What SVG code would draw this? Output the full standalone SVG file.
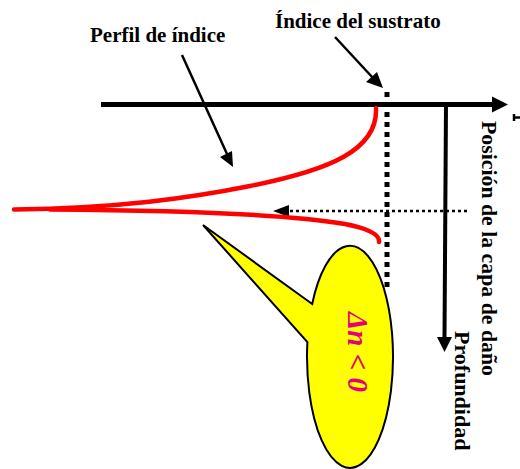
<svg xmlns="http://www.w3.org/2000/svg" width="520" height="469" viewBox="0 0 520 469">
<style>
.lbl{font-family:"Liberation Serif","Times New Roman",serif;font-weight:bold;fill:#000}
.red{fill:none;stroke:#ff0000;stroke-width:4.5;stroke-linecap:round}
</style>
<rect width="520" height="469" fill="#fff"/>
<g id="connectors">
  <line x1="101" y1="104.5" x2="494" y2="104.5" stroke="#000" stroke-width="5"/>
  <path d="M492,96.5 L508,104.5 L492,112.5 Z" fill="#000"/>
  <line x1="446" y1="104" x2="444.5" y2="338" stroke="#000" stroke-width="4"/>
  <path d="M437,337 L444.5,352 L452,337 Z" fill="#000"/>
  <line x1="387" y1="92" x2="387" y2="292" stroke="#000" stroke-width="5" stroke-dasharray="5 5"/>
  <line x1="467" y1="211" x2="288" y2="211" stroke="#000" stroke-width="2.5" stroke-dasharray="3 3"/>
  <path d="M289,205 L273,211 L289,217 Z" fill="#000"/>
  <line x1="182" y1="55" x2="227" y2="154" stroke="#000" stroke-width="2.5"/>
  <path d="M220,157 L233,167 L232,151 Z" fill="#000"/>
  <line x1="335" y1="37" x2="373" y2="78" stroke="#000" stroke-width="2.5"/>
  <path d="M366,82 L383,88 L377,72 Z" fill="#000"/>
</g>
<g id="profile">
  <path class="red" d="M376,108 C378,150 330,170 250,186 C190,198 120,208 14,209.5"/>
  <path class="red" d="M50,209.5 C200,210.5 300,216 345,224 C370,229 380,235 379,242"/>
</g>
<g id="callout">
  <path d="M312.2,304 L203,225 L307.4,342 A43,111 0 1 0 312.2,304 Z" fill="#ffff00" stroke="#000" stroke-width="2"/>
  <text x="348" y="352" transform="rotate(90 348 352)" text-anchor="middle" font-family="'Liberation Serif','Times New Roman',serif" font-weight="bold" font-style="italic" font-size="29" fill="#e4007c">Δn &lt; 0</text>
</g>
<g id="labels">
  <text class="lbl" x="90" y="42" font-size="21">Perfil de índice</text>
  <text class="lbl" x="275" y="28" font-size="21">Índice del sustrato</text>
  <text class="lbl" x="482" y="121" font-size="21.8" transform="rotate(90 482 121)">Posición de la capa de daño</text>
  <text class="lbl" x="455" y="331" font-size="22" transform="rotate(90 455 331)">Profundidad</text>
  <path d="M514,114 L514,121 M514,117.5 L520,117.5" stroke="#000" stroke-width="2.5"/>
</g>
</svg>
